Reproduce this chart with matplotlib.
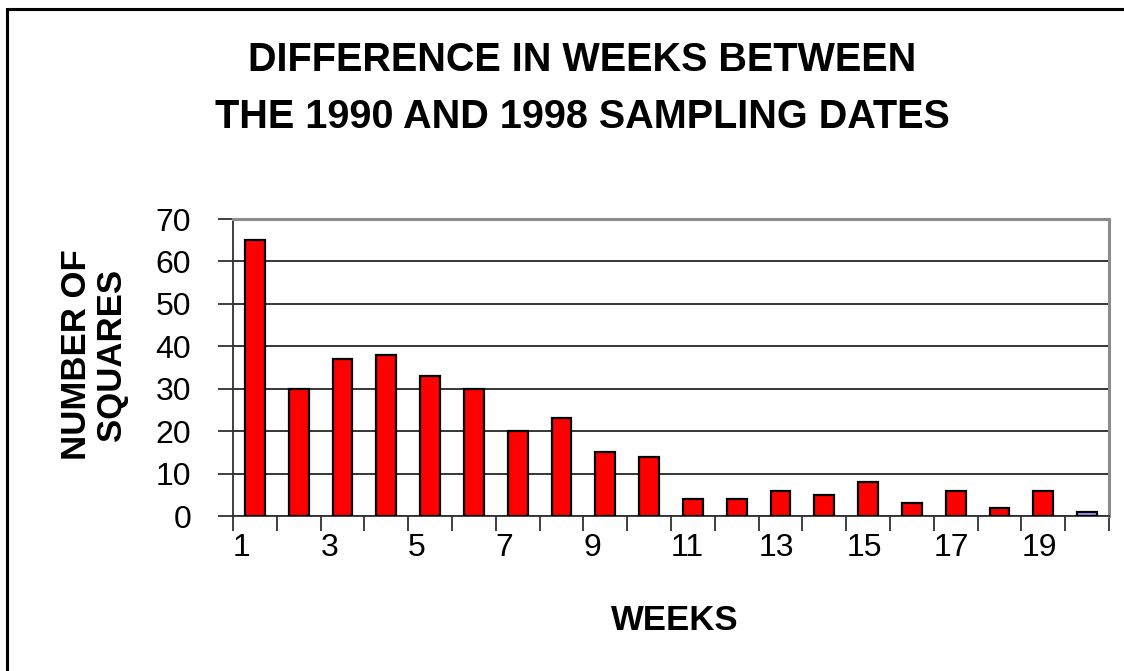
import matplotlib
matplotlib.use("Agg")
import matplotlib.pyplot as plt
from matplotlib.patches import Rectangle

plt.rcParams['font.family'] = ['Liberation Sans', 'DejaVu Sans']

weeks = [str(i) for i in range(1, 21)]
squares = [65, 30, 37, 38, 33, 30, 20, 23, 15, 14, 4, 4, 6, 5, 8, 3, 6, 2, 6, 1]
bar_colors = ['#FF0000'] * 19 + ['#9999FF']
y_ticks = [0, 10, 20, 30, 40, 50, 60, 70]

W, H = 1124, 671
fig = plt.figure(figsize=(W / 100, H / 100), dpi=100)
fig.patch.set_facecolor('white')

# outer chart border (extends beyond the image on right/bottom)
fig.add_artist(Rectangle((7 / W, -0.05), 1.2, 1 - 9 / H + 0.05, transform=fig.transFigure,
                         fill=False, edgecolor='black', linewidth=2.2))

ax = fig.add_axes([233 / W, 1 - 516 / H, (1109 - 233) / W, (516 - 219) / H])

n = len(squares)
pos = [i + 0.5 for i in range(n)]
ax.bar(pos, squares, width=0.45, color=bar_colors, edgecolor='black', linewidth=1.6, zorder=3)

ax.set_yticks(y_ticks)
ax.set_yticklabels([str(v) for v in y_ticks], fontsize=23)
ax.yaxis.grid(True, color='black', linewidth=1.1, zorder=0)
ax.set_axisbelow(True)

# category boundary ticks (minor, unlabeled)
ax.xaxis.remove_overlapping_locs = False
ax.set_xticks(range(n + 1), minor=True)
ax.tick_params(axis='x', which='minor', direction='out', length=11, width=1.2, color='#202020')
# labels every second category, left-aligned at the boundary tick
lab_idx = list(range(0, n, 2))
ax.set_xticks(lab_idx)
ax.set_xticklabels([weeks[i] for i in lab_idx], fontsize=23, ha='left')
ax.tick_params(axis='x', which='major', length=0, pad=12)

ax.tick_params(axis='y', direction='out', length=11, width=1.2, color='#202020', pad=19)

ax.set_xlim(0, n)
ax.set_ylim(0, 70)

for side in ['left', 'bottom']:
    ax.spines[side].set_color('#303030')
    ax.spines[side].set_linewidth(1.3)
for side in ['top', 'right']:
    ax.spines[side].set_color('#8C8C8C')
    ax.spines[side].set_linewidth(2.2)

fig.text(582.5 / W, 1 - 60 / H, 'DIFFERENCE IN WEEKS BETWEEN', ha='center', va='center',
         fontsize=28.5, fontweight='bold')
fig.text(582.5 / W, 1 - 117 / H, 'THE 1990 AND 1998 SAMPLING DATES', ha='center', va='center',
         fontsize=28.5, fontweight='bold')

fig.text(94 / W, 1 - 355 / H, 'NUMBER OF\nSQUARES', ha='center', va='center', rotation=90,
         fontsize=25, fontweight='bold', linespacing=1.1)
fig.text(675 / W, 1 - 621 / H, 'WEEKS', ha='center', va='center', fontsize=25, fontweight='bold')

fig.savefig('out.png', dpi=100, facecolor='white')
